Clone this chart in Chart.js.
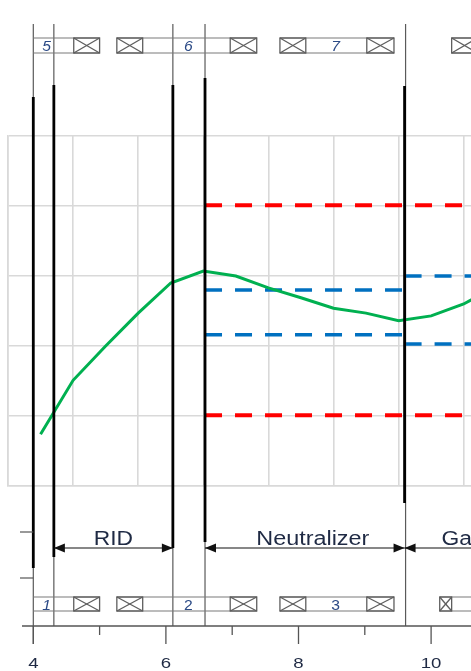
<!DOCTYPE html>
<html>
<head>
<meta charset="utf-8">
<script src="https://cdn.jsdelivr.net/npm/chart.js@4/dist/chart.umd.min.js"></script>
<style>
  html, body { margin: 0; padding: 0; background: #ffffff; overflow: hidden; }
  #wrap { position: relative; width: 471px; height: 671px; }
</style>
</head>
<body>
<div id="wrap"><canvas id="c" width="471" height="671"></canvas></div>
<script>
// Beam profile (green), sampled every half grid step
const traceX = [0.5, 1.0, 1.5, 2.0, 2.5, 3.0, 3.5, 4.0, 4.5, 5.0, 5.5, 6.0, 6.5, 7.0, 7.5];
const traceY = [7.4, 15.1, 20.0, 24.7, 29.0, 30.7, 30.0, 28.3, 26.9, 25.4, 24.7, 23.6, 24.3, 26.0, 28.6];

// Limits along the beamline (x in metres)
const outerLimit = [10.1, 40.1];        // red, lower / upper
const neutralizerLimit = [21.6, 28.0];  // blue, inside the neutralizer
const gasLimit = [20.3, 30.0];          // blue, downstream

// Component boundaries along the beamline (m)
const walls = [4.0, 4.31, 6.105, 6.59, 9.6];

// Coil boxes and housing spans for the upper and lower rows (m)
const topBoxes = [[4.61, 5.0], [5.26, 5.65], [6.97, 7.37], [7.72, 8.11], [9.03, 9.44], [10.31, 10.7]];
const bottomBoxes = [[4.61, 5.0], [5.26, 5.65], [6.97, 7.37], [7.72, 8.11], [9.03, 9.44], [10.13, 10.31]];
const topSpans = [[4.0, 5.0], [5.26, 7.37], [7.72, 9.44], [10.31, 10.9]];
const bottomSpans = [[4.0, 5.0], [5.26, 7.37], [7.72, 9.44], [10.13, 10.9]];
const topLabels = ['5', '6', '7'];
const bottomLabels = ['1', '2', '3'];
const labelZ = [4.2, 6.34, 8.56];

// Named sections with their extent (m)
const sections = [
  { name: 'RID', from: 4.31, to: 6.105 },
  { name: 'Neutralizer', from: 6.59, to: 9.6 },
  { name: 'Gas', from: 9.6, to: 11.2 }
];

// Beamline axis
const zMajor = [4, 6, 8, 10];
const zMinor = [5, 7, 9, 11];
const zMin = 3.6184, zMax = 10.6018;

const FONT = '"Liberation Sans", Arial, sans-serif';

function stretchText(ctx, s, x, y, size, align, sx, color, style) {
  ctx.save();
  ctx.font = (style || '') + ' ' + size + 'px ' + FONT;
  ctx.fillStyle = color;
  ctx.textAlign = align;
  ctx.textBaseline = 'alphabetic';
  ctx.translate(x, y);
  ctx.scale(sx, 1);
  ctx.fillText(s, 0, 0);
  ctx.restore();
}

function seg(ctx, x1, y1, x2, y2) {
  ctx.beginPath();
  ctx.moveTo(x1, y1);
  ctx.lineTo(x2, y2);
  ctx.stroke();
}

function arrowHead(ctx, tipX, y, dir) {
  // dir = -1 points left, +1 points right
  const len = 11, half = 4.5;
  ctx.beginPath();
  ctx.moveTo(tipX, y);
  ctx.lineTo(tipX - dir * len, y - half);
  ctx.lineTo(tipX - dir * len, y + half);
  ctx.closePath();
  ctx.fill();
}

function drawRow(ctx, px, spans, boxes, labels, yTop, yBot, baseline, italicAll) {
  ctx.strokeStyle = '#7a7a7a';
  ctx.lineWidth = 1.2;
  spans.forEach(([a, b]) => {
    seg(ctx, px(a), yTop, px(b), yTop);
    seg(ctx, px(a), yBot, px(b), yBot);
  });
  ctx.strokeStyle = '#5e5e5e';
  ctx.lineWidth = 1.3;
  boxes.forEach(([a, b]) => {
    const x1 = px(a), x2 = px(b);
    ctx.strokeRect(x1, yTop, x2 - x1, yBot - yTop);
    seg(ctx, x1, yTop, x2, yBot);
    seg(ctx, x1, yBot, x2, yTop);
  });
  labels.forEach((t, i) => {
    const style = (italicAll || i === 0) ? 'italic' : '';
    stretchText(ctx, t, px(labelZ[i]), baseline, 14, 'center', 1.12, '#2b4a86', style);
  });
}

const schematic = {
  id: 'schematic',
  afterDraw(chart) {
    const ctx = chart.ctx;
    const zs = chart.scales.z;
    const px = z => zs.getPixelForValue(z);
    ctx.save();

    // thin full-height guides at each boundary
    ctx.strokeStyle = '#5a5a5a';
    ctx.lineWidth = 1.2;
    walls.forEach((z, i) => seg(ctx, px(z) + (i === 4 ? 1 : 0), 24, px(z) + (i === 4 ? 1 : 0), i === 0 ? 644 : 626));

    // heavy wall segments
    const heavy = [[97, 568], [85, 557], [85, 548], [78, 542], [86, 503]];
    ctx.strokeStyle = '#000000';
    ctx.lineWidth = 2.8;
    walls.forEach((z, i) => seg(ctx, px(z), heavy[i][0], px(z), heavy[i][1]));

    // coil rows
    drawRow(ctx, px, topSpans, topBoxes, topLabels, 38, 53, 51, true);
    drawRow(ctx, px, bottomSpans, bottomBoxes, bottomLabels, 597, 611, 610, false);

    // dimension arrows
    const ay = 548;
    ctx.strokeStyle = '#111111';
    ctx.fillStyle = '#111111';
    ctx.lineWidth = 1.2;
    sections.forEach(s => {
      const a = px(s.from), b = px(s.to);
      seg(ctx, a, ay, b, ay);
      arrowHead(ctx, a, ay, -1);
      if (s.to < zMax) arrowHead(ctx, b, ay, 1);
    });
    stretchText(ctx, sections[0].name, (px(sections[0].from) + px(sections[0].to)) / 2, 545, 19.5, 'center', 1.17, '#1f2a44');
    stretchText(ctx, sections[1].name, (px(sections[1].from) + px(sections[1].to)) / 2 + 8, 545, 19.5, 'center', 1.2, '#1f2a44');
    stretchText(ctx, sections[2].name, px(sections[2].from) + 37, 545, 19.5, 'left', 1.17, '#1f2a44');

    // left ticks
    ctx.strokeStyle = '#555555';
    ctx.lineWidth = 1.2;
    seg(ctx, 20, 532, px(walls[0]), 532);
    seg(ctx, 20, 578, px(walls[0]), 578);

    // beamline axis
    ctx.strokeStyle = '#555555';
    ctx.lineWidth = 1.3;
    seg(ctx, 22, 626, 471, 626);
    zMajor.forEach(v => seg(ctx, px(v), 626, px(v), 644));
    zMinor.forEach(v => seg(ctx, px(v), 626, px(v), 635));
    zMajor.forEach(v => stretchText(ctx, String(v), px(v), 668, 15.5, 'center', 1.2, '#1f2a44'));

    ctx.restore();
  }
};

const hline = (from, to, y) => [{ x: from, y: y }, { x: to, y: y }];
const dashed = (data, color, width) => ({
  data: data, xAxisID: 'z', yAxisID: 'y',
  borderColor: color, borderWidth: width, borderDash: [17, 13],
  pointRadius: 0, tension: 0, fill: false
});

new Chart(document.getElementById('c'), {
  type: 'line',
  data: {
    datasets: [
      {
        data: traceX.map((x, i) => ({ x: x, y: traceY[i] })),
        xAxisID: 'x', yAxisID: 'y',
        borderColor: '#00b050', borderWidth: 3,
        pointRadius: 0, tension: 0, fill: false
      },
      dashed(hline(walls[3], 10.8, outerLimit[1]), '#ff0000', 4),
      dashed(hline(walls[3], 10.8, outerLimit[0]), '#ff0000', 4),
      dashed(hline(walls[3], walls[4], neutralizerLimit[1]), '#0070c0', 3.5),
      dashed(hline(walls[3], walls[4], neutralizerLimit[0]), '#0070c0', 3.5),
      dashed(hline(walls[4], 10.8, gasLimit[1]), '#0070c0', 3.5),
      dashed(hline(walls[4], 10.8, gasLimit[0]), '#0070c0', 3.5)
    ]
  },
  options: {
    responsive: false,
    animation: false,
    devicePixelRatio: 1,
    layout: { padding: { left: 8, top: 136, right: 0, bottom: 185 } },
    plugins: { legend: { display: false }, tooltip: { enabled: false } },
    scales: {
      x: {
        type: 'linear', position: 'bottom', min: 0, max: 7.112,
        grid: { color: '#d9d9d9', lineWidth: 1.6, drawTicks: false },
        border: { display: true, color: '#d9d9d9', width: 1.6 },
        ticks: { display: false },
        afterBuildTicks: s => { s.ticks = [0, 1, 2, 3, 4, 5, 6, 7].map(v => ({ value: v })); }
      },
      z: { type: 'linear', position: 'bottom', display: false, min: zMin, max: zMax },
      y: {
        type: 'linear', position: 'left', min: 0, max: 50,
        grid: { color: '#d9d9d9', lineWidth: 1.6, drawTicks: false },
        border: { display: true, color: '#d9d9d9', width: 1.6 },
        ticks: { display: false, stepSize: 10 }
      }
    }
  },
  plugins: [schematic]
});
</script>
</body>
</html>
